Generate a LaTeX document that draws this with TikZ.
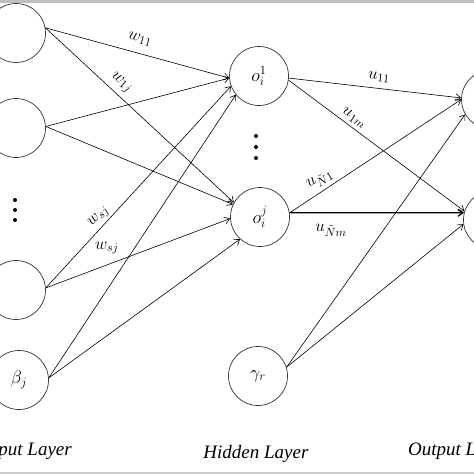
\RequirePackage{fix-cm}
\documentclass[tikz,border=0pt]{standalone}
\usepackage{fontspec}
\setmainfont{Liberation Serif}
\usetikzlibrary{arrows.meta}
\begin{document}
\begin{tikzpicture}[x=1pt,y=-1pt,
  neuron/.style={circle,draw=black!80,line width=0.7pt,minimum size=59pt,inner sep=0pt,font=\fontsize{18}{20}\selectfont},
  conn/.style={draw,line width=0.6pt,-{Straight Barb[length=5pt,width=7pt]}},
  wlab/.style={font=\fontsize{17}{19}\selectfont,inner sep=0pt},
  layerlab/.style={font=\fontsize{19}{22}\selectfont\itshape,inner sep=0pt,anchor=base}]
\useasboundingbox (0,0) rectangle (474,474);
\clip (0,0) rectangle (474,474);
\fill[white] (0,0) rectangle (474,474);
\fill[gray!50] (0,0) rectangle (474,2.5);
\fill[gray!40] (0,472) rectangle (474,474);
% nodes
\node[neuron] (in1) at (16,33) {};
\node[neuron] (in2) at (16,128) {};
\node[neuron] (in3) at (16,290) {};
\node[neuron] (beta) at (19,380) {$\beta_j$};
\node[neuron] (h1) at (259,76) {$o_i^1$};
\node[neuron] (hj) at (260,217) {$o_i^j$};
\node[neuron] (gam) at (258,376) {$\gamma_r$};
\node[neuron] (out1) at (491,99.5) {};
\node[neuron] (out2) at (493,220) {};
% dots
\foreach \y in {200,210,220} \fill (15,\y) circle (2pt);
\foreach \y in {136,147,158} \fill (256,\y) circle (2pt);
% connections input -> hidden
\draw[conn] (in1.10) -- (h1.184);
\draw[conn] (in1.10) -- (hj.151);
\draw[conn] (in2.3) -- (h1.184);
\draw[conn] (in2.3) -- (hj.155);
\draw[conn] (in3.4) -- (h1.200);
\draw[conn] (in3.4) -- (hj.183);
\draw[conn] (beta.4) -- (h1.219);
\draw[conn] (beta.4) -- (hj.228);
% hidden -> output
\draw[conn] (h1.356) -- (out1.177);
\draw[conn] (h1.352) -- (out2.163);
\draw[conn] (hj.8) -- (out1.180);
\draw[conn,line width=1.3pt] (hj.8) -- (out2.166);
\draw[conn] (gam.17) -- (out1.210);
\draw[conn] (gam.17) -- (out2.188);
% weight labels
\node[wlab,rotate=-15] (l1) at (140,39) {$w_{11}$};
\node[wlab,rotate=-40] (l2) at (121,83) {$w_{1j}$};
\node[wlab,rotate=45] (l3) at (99,217) {$w_{sj}$};
\node[wlab] (l4) at (107,248) {$w_{sj}$};
\node[wlab,rotate=-6] (l5) at (379,77) {$u_{11}$};
\node[wlab,rotate=-33] (l6) at (354,118) {$u_{1m}$};
\node[wlab,rotate=30] (l7) at (320,180) {$u_{\tilde N1}$};
\node[wlab] (l8) at (331,230) {$u_{\tilde Nm}$};
% layer labels
\node[layerlab,anchor=base east] (il) at (72,455) {Input Layer};
\node[layerlab] (hl) at (256,458) {Hidden Layer};
\node[layerlab,anchor=base west] (ol) at (408,455) {Output Layer};
\end{tikzpicture}
\end{document}
